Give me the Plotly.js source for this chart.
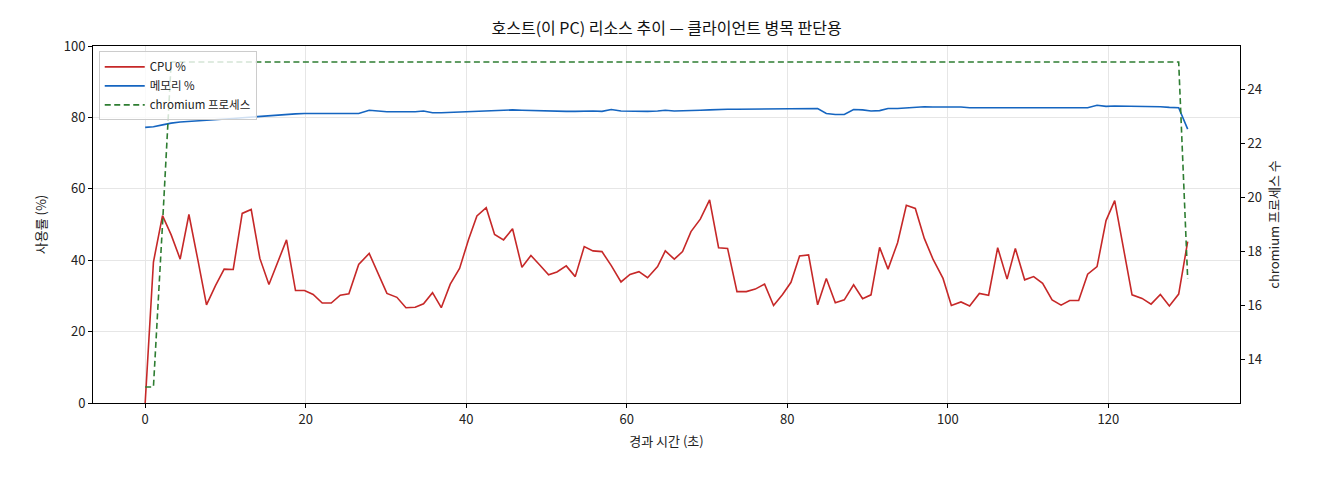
<!DOCTYPE html>
<html>
<head>
<meta charset="utf-8">
<script src="https://cdn.plot.ly/plotly-3.0.1.min.js"></script>
<style>
  html, body { margin: 0; padding: 0; background: #fff; }
  #chart { width: 1320px; height: 480px; }
</style>
</head>
<body>
<div id="chart"></div>
<script>
// elapsed time (s)
const elapsed = [0, 1.03, 2.16, 3.24, 4.36, 5.45, 6.57, 7.64, 8.76, 9.84,
  10.97, 12.09, 13.21, 14.29, 15.42, 16.54, 17.61, 18.73, 19.85, 20.93,
  22.06, 23.18, 24.30, 25.38, 26.6, 27.91, 29.03, 30.12, 31.36, 32.49,
  33.64, 34.68, 35.80, 36.89, 38.01, 39.17, 40.29, 41.33, 42.49, 43.53,
  44.65, 45.77, 46.94, 48.06, 49.10, 50.26, 51.30, 52.46, 53.58, 54.70,
  55.79, 56.91, 58.07, 59.28, 60.40, 61.52, 62.59, 63.84, 64.80, 65.92,
  66.95, 68.00, 69.16, 70.32, 71.44, 72.56, 73.73, 74.89, 76.01, 77.17,
  78.29, 79.41, 80.46, 81.53, 82.65, 83.78, 84.86, 85.98, 87.10, 88.26,
  89.38, 90.43, 91.50, 92.55, 93.74, 94.83, 95.95, 97.07, 98.15, 99.40,
  100.44, 101.64, 102.72, 103.93, 105.08, 106.21, 107.38, 108.41, 109.57, 110.69,
  111.81, 112.99, 114.11, 115.18, 116.30, 117.42, 118.59, 119.71, 120.79, 121.83,
  122.95, 124.20, 125.32, 126.48, 127.60, 128.76, 129.88];

const cpuPct = [0, 39.5, 52.5, 47.1, 40.3, 52.8, 40.0, 27.5, 32.9, 37.5,
  37.4, 53.1, 54.2, 40.5, 33.2, 39.4, 45.7, 31.5, 31.5, 30.4,
  28.0, 28.0, 30.2, 30.6, 38.8, 41.9, 36.0, 30.7, 29.6, 26.7,
  26.8, 27.8, 30.9, 26.7, 33.3, 37.7, 45.8, 52.4, 54.7, 47.2,
  45.7, 48.8, 38.0, 41.3, 38.8, 35.9, 36.7, 38.4, 35.4, 43.8,
  42.6, 42.4, 38.5, 33.9, 36.0, 36.8, 35.1, 38.2, 42.6, 40.3,
  42.4, 48.0, 51.5, 56.9, 43.5, 43.3, 31.2, 31.2, 31.9, 33.3,
  27.3, 30.4, 33.8, 41.2, 41.5, 27.5, 34.9, 28.1, 28.9, 33.1,
  29.2, 30.3, 43.6, 37.5, 44.9, 55.4, 54.5, 46.1, 40.3, 34.9,
  27.3, 28.3, 27.2, 30.7, 30.2, 43.5, 34.7, 43.3, 34.5, 35.4,
  33.5, 28.9, 27.4, 28.7, 28.7, 36.1, 38.2, 51.1, 56.7, 43.5,
  30.3, 29.3, 27.7, 30.4, 27.2, 30.5, 45.2];

const memPct = [77.2, 77.4, 77.9, 78.4, 78.7, 78.9, 79.1, 79.3, 79.4, 79.6,
  79.7, 79.9, 80.1, 80.3, 80.5, 80.8, 81.0, 81.0, 81.1, 81.1,
  81.1, 81.1, 81.1, 81.0, 81.1, 82.0, 81.7, 81.6, 81.6, 81.5,
  81.6, 81.8, 81.3, 81.3, 81.4, 81.5, 81.6, 81.9, 81.9, 82.0,
  82.0, 82.1, 82.0, 81.9, 81.8, 81.8, 81.8, 81.7, 81.7, 81.8,
  81.8, 81.7, 82.2, 81.8, 81.7, 81.7, 81.7, 81.8, 82.0, 81.8,
  81.8, 81.9, 82.0, 82.1, 82.3, 82.3, 82.3, 82.3, 82.4, 82.5,
  82.4, 82.4, 82.5, 82.4, 82.5, 82.5, 81.1, 80.8, 80.8, 82.2,
  82.1, 81.8, 81.9, 82.5, 82.5, 82.7, 83.0, 83.0, 82.9, 82.9,
  83.0, 82.9, 82.7, 82.7, 82.8, 82.9, 82.7, 82.7, 82.7, 82.7,
  82.7, 82.7, 82.7, 82.7, 82.7, 82.7, 83.4, 83.1, 83.2, 83.2,
  83.2, 83.2, 83.1, 83.0, 82.8, 82.7, 76.7];

const chromiumProcs = [13, 13, 19];
for (let i = 3; i < 116; i++) chromiumProcs.push(25);
chromiumProcs.push(17);

const font = '"Noto Sans CJK KR", "Noto Sans", sans-serif';

const traces = [
  { x: elapsed, y: cpuPct, mode: "lines", name: "CPU %",
    line: { color: "#c62828", width: 1.6 } },
  { x: elapsed, y: memPct, mode: "lines", name: "메모리 %",
    line: { color: "#1565c0", width: 1.6 } },
  { x: elapsed, y: chromiumProcs, mode: "lines", name: "chromium 프로세스",
    yaxis: "y2", line: { color: "#2e7d32", width: 1.6, dash: "6px,3.5px" } }
];

const layout = {
  width: 1320, height: 480,
  margin: { l: 93, r: 80, t: 46, b: 77 },
  paper_bgcolor: "#fff", plot_bgcolor: "#fff",
  font: { family: font, size: 13, color: "#222" },
  title: { text: "호스트(이 PC) 리소스 추이 — 클라이언트 병목 판단용",
    font: { size: 16, color: "#111" }, x: 0.505, xanchor: "center", y: 0.94, yanchor: "middle" },
  showlegend: true,
  legend: { x: 0.005, y: 0.985, xanchor: "left", yanchor: "top",
    bgcolor: "rgba(255,255,255,0.8)", bordercolor: "#ccc", borderwidth: 1,
    font: { size: 11.5 }, tracegroupgap: 0, itemwidth: 40 },
  xaxis: {
    range: [-6.5, 136.4], tickvals: [0, 20, 40, 60, 80, 100, 120],
    showline: true, linecolor: "#000", linewidth: 1, mirror: true,
    ticks: "outside", ticklen: 4, tickcolor: "#000",
    showgrid: true, gridcolor: "#e6e6e6", zeroline: false,
    title: { text: "경과 시간 (초)", font: { size: 13 }, standoff: 10 }
  },
  yaxis: {
    range: [0, 100], tickvals: [0, 20, 40, 60, 80, 100],
    showline: true, linecolor: "#000", linewidth: 1,
    ticks: "outside", ticklen: 4, tickcolor: "#000",
    showgrid: true, gridcolor: "#e6e6e6", zeroline: false,
    title: { text: "사용률 (%)", font: { size: 13 }, standoff: 14 }
  },
  yaxis2: {
    overlaying: "y", side: "right", range: [12.41, 25.59],
    tickvals: [14, 16, 18, 20, 22, 24],
    showline: true, linecolor: "#000", linewidth: 1,
    ticks: "outside", ticklen: 4, tickcolor: "#000",
    showgrid: false, zeroline: false,
    title: { text: "chromium 프로세스 수", font: { size: 13 }, standoff: 8 }
  }
};

Plotly.newPlot("chart", traces, layout, { displayModeBar: false, staticPlot: true });
</script>
</body>
</html>
